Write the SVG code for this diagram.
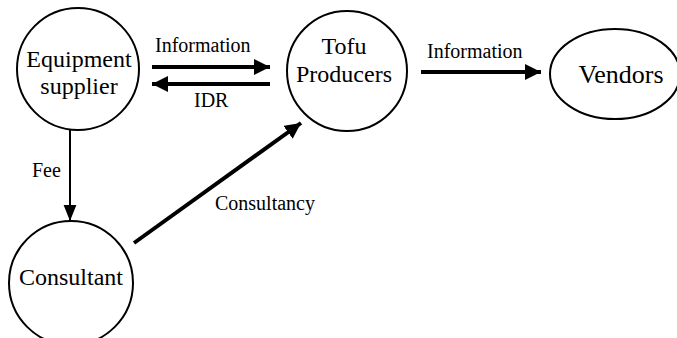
<svg xmlns="http://www.w3.org/2000/svg" width="677" height="338" viewBox="0 0 677 338">
<style>
.node{fill:#fff;stroke:#000;stroke-width:2}
.nt{font-family:"Liberation Serif","Times New Roman",serif;font-size:24px;fill:#000;text-anchor:middle}
.lt{font-family:"Liberation Serif","Times New Roman",serif;font-size:20px;fill:#000}
.thick{stroke:#000;stroke-width:4;fill:none}
.thin{stroke:#000;stroke-width:2;fill:none}
</style>
<defs>
<marker id="ah" viewBox="0 0 10 10" refX="10" refY="5" markerWidth="4" markerHeight="4" orient="auto" markerUnits="strokeWidth">
<path d="M0,0 L10,5 L0,10 z" fill="#000"/>
</marker>
<marker id="ahs" viewBox="0 0 10 10" refX="10" refY="5" markerWidth="8" markerHeight="8" orient="auto" markerUnits="strokeWidth">
<path d="M0,1 L10,5 L0,9 z" fill="#000"/>
</marker>
</defs>
<rect width="677" height="338" fill="#fff"/>
<g id="edges">
<line class="thick" x1="152" y1="67" x2="270" y2="67" marker-end="url(#ah)"/>
<line class="thick" x1="270" y1="84" x2="152" y2="84" marker-end="url(#ah)"/>
<line class="thick" x1="421" y1="72" x2="541" y2="72" marker-end="url(#ah)"/>
<line class="thin" x1="70" y1="124" x2="70" y2="221" marker-end="url(#ahs)"/>
<line class="thick" x1="134" y1="243" x2="301" y2="123" marker-end="url(#ah)"/>
<text class="lt" x="155" y="52">Information</text>
<text class="lt" x="194" y="107">IDR</text>
<text class="lt" x="427" y="58">Information</text>
<text class="lt" x="32" y="177">Fee</text>
<text class="lt" x="215" y="210">Consultancy</text>
</g>
<g id="equipment">
<circle class="node" cx="78" cy="69" r="61"/>
<text class="nt" x="79" y="67">Equipment</text>
<text class="nt" x="79" y="94">supplier</text>
</g>
<g id="tofu">
<circle class="node" cx="347" cy="71" r="60"/>
<text class="nt" x="344" y="54">Tofu</text>
<text class="nt" x="344" y="82">Producers</text>
</g>
<g id="vendors">
<ellipse class="node" cx="615" cy="74" rx="65" ry="45"/>
<text class="nt" x="621" y="83" style="font-size:26px">Vendors</text>
</g>
<g id="consultant">
<circle class="node" cx="71" cy="283" r="62"/>
<text class="nt" x="71" y="285">Consultant</text>
</g>
</svg>
